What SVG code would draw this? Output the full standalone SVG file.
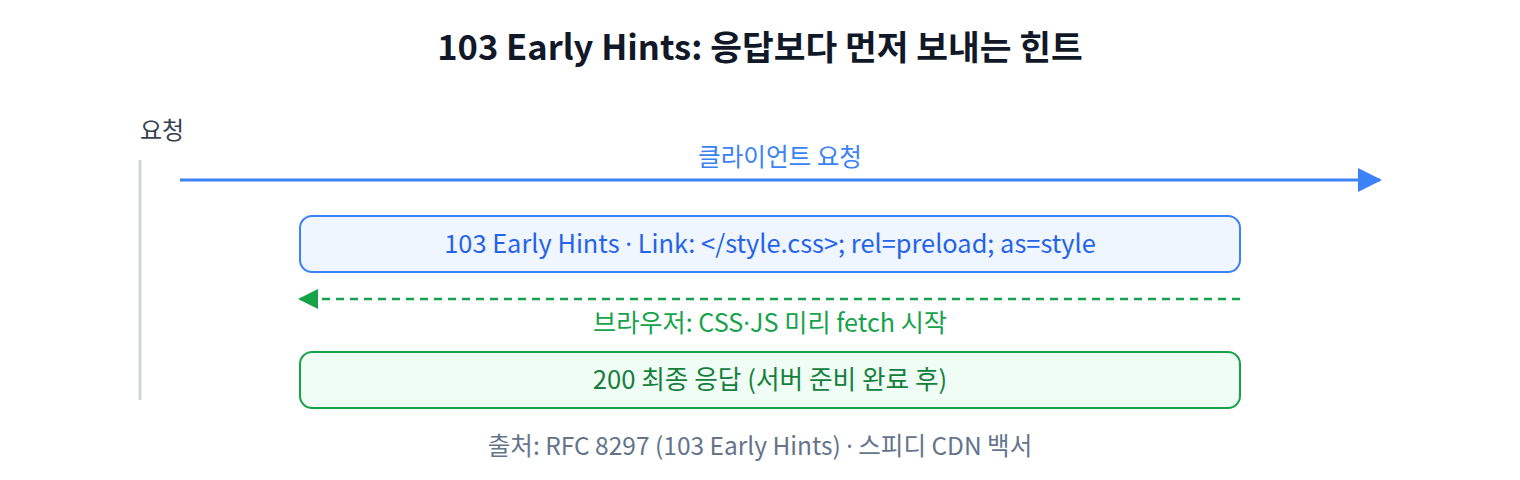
<svg xmlns="http://www.w3.org/2000/svg" width="1520" height="480" viewBox="0 0 1520 480">
<style>
text{font-family:"Noto Sans CJK KR","Noto Sans",sans-serif}
.dot{font-family:"Noto Sans",sans-serif}
.title{font-size:34.5px;font-weight:700;fill:#111827}
.lane{font-size:24px;fill:#374151}
.blue{font-size:24.6px;fill:#3b82f6}
.btxt{font-size:25.4px;fill:#2563eb}
.gtxt{font-size:25.7px;fill:#15803d}
.glabel{font-size:25.2px;fill:#16a34a}
.foot{font-size:24.5px;fill:#64748b}
</style>
<defs>
<marker id="ab" viewBox="0 0 24 24" refX="22" refY="12" markerWidth="24" markerHeight="24" markerUnits="userSpaceOnUse" orient="auto"><path d="M0,0 L24,12 L0,24 Z" fill="#3b82f6"/></marker>
<marker id="ag" viewBox="0 0 20 20" refX="18" refY="10" markerWidth="20" markerHeight="20" markerUnits="userSpaceOnUse" orient="auto"><path d="M0,0 L20,10 L0,20 Z" fill="#16a34a"/></marker>
</defs>
<rect width="1520" height="480" fill="#ffffff"/>
<text class="title" x="760" y="60" text-anchor="middle">103 Early Hints: 응답보다 먼저 보내는 힌트</text>
<g id="lane">
<text class="lane" x="140" y="139">요청</text>
<line x1="140" y1="160" x2="140" y2="400" stroke="#d1d5db" stroke-width="3"/>
</g>
<g id="connectors">
<line x1="180" y1="180" x2="1380" y2="180" stroke="#3b82f6" stroke-width="3" marker-end="url(#ab)"/>
<text class="blue" x="780" y="166" text-anchor="middle">클라이언트 요청</text>
<line x1="1240" y1="299" x2="300" y2="299" stroke="#16a34a" stroke-width="2.5" stroke-dasharray="8 6" marker-end="url(#ag)"/>
<text class="glabel" x="770" y="332" text-anchor="middle">브라우저: CSS<tspan class="dot">·</tspan>JS 미리 fetch 시작</text>
</g>
<g id="hints">
<rect x="300" y="216" width="940" height="56" rx="12" fill="#eff6ff" stroke="#3b82f6" stroke-width="2"/>
<text class="btxt" x="770" y="253" text-anchor="middle">103 Early Hints <tspan class="dot">·</tspan> Link: &lt;/style.css&gt;; rel=preload; as=style</text>
</g>
<g id="final">
<rect x="300" y="352" width="940" height="56" rx="12" fill="#f0fdf4" stroke="#16a34a" stroke-width="2"/>
<text class="gtxt" x="770" y="389" text-anchor="middle">200 최종 응답 (서버 준비 완료 후)</text>
</g>
<text class="foot" x="760" y="455" text-anchor="middle">출처: RFC 8297 (103 Early Hints) <tspan class="dot">·</tspan> 스피디 CDN 백서</text>
</svg>
